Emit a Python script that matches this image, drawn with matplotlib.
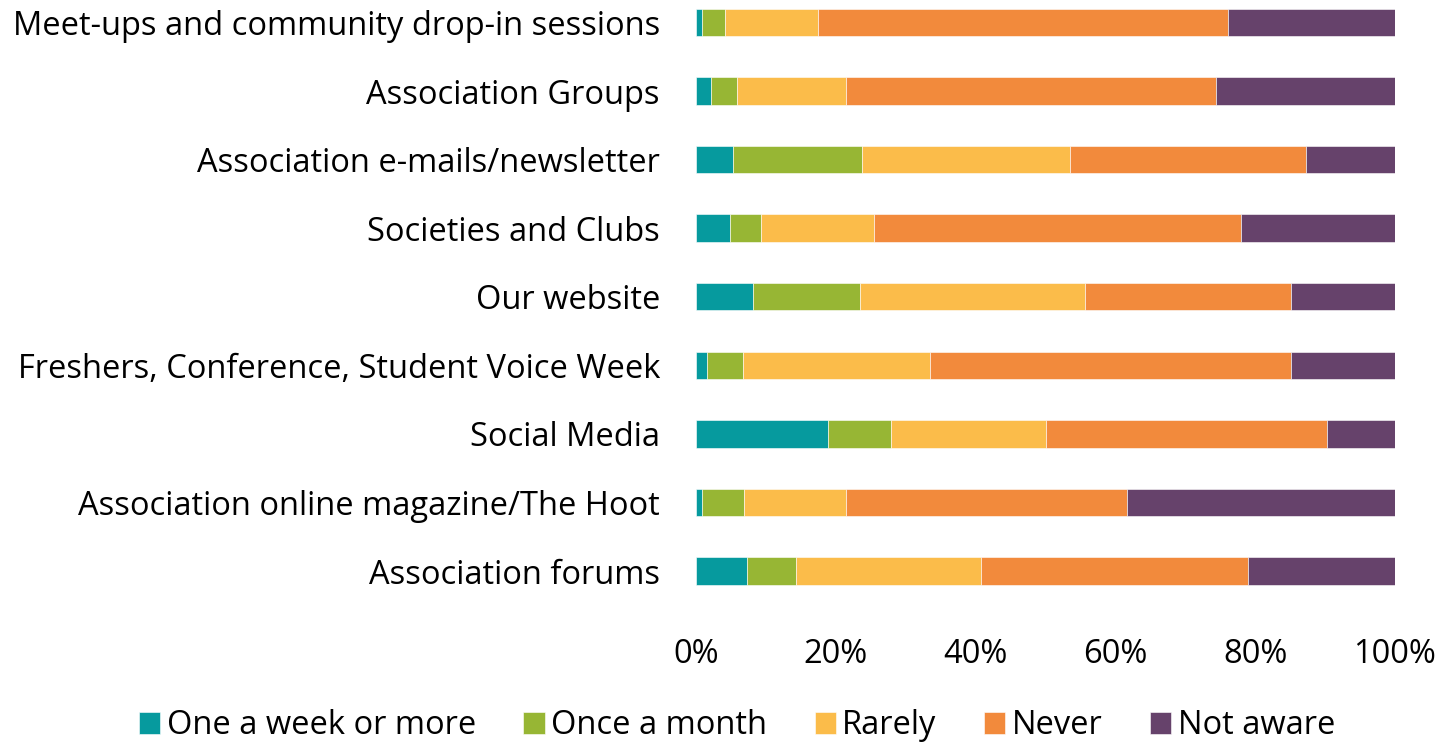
import numpy as np
import matplotlib.pyplot as plt
from matplotlib.ticker import PercentFormatter

# categories (top to bottom) and share of responses (%)
categories = ["Meet-ups and community drop-in sessions",
              "Association Groups",
              "Association e-mails/newsletter",
              "Societies and Clubs",
              "Our website",
              "Freshers, Conference, Student Voice Week",
              "Social Media",
              "Association online magazine/The Hoot",
              "Association forums"]
weekly  = [0.9, 2.2, 5.3, 4.8, 8.1, 1.5, 18.9, 0.9, 7.3]
monthly = [3.3, 3.7, 18.5, 4.5, 15.4, 5.2, 9.0, 6.0, 7.0]
rarely  = [13.2, 15.5, 29.7, 16.2, 32.2, 26.8, 22.2, 14.5, 26.4]
never   = [58.7, 53.0, 33.8, 52.5, 29.4, 51.6, 40.2, 40.2, 38.3]
unaware = [23.9, 25.6, 12.7, 22.0, 14.9, 14.9, 9.7, 38.4, 21.0]

series = ["One a week or more", "Once a month", "Rarely", "Never", "Not aware"]
colors = ["#069A9E", "#97B634", "#FBBC4A", "#F28A3C", "#66426B"]

plt.rcParams['font.family'] = ['Open Sans', 'DejaVu Sans']

fig = plt.figure(figsize=(14.48, 7.42), dpi=100)
ax = fig.add_axes([0.4807, 0.1846, 0.4827, 0.8154])

y = np.arange(len(categories))
left = np.zeros(len(categories))
for vals, lab, col in zip([weekly, monthly, rarely, never, unaware], series, colors):
    ax.barh(y, vals, left=left, height=0.4, color=col, label=lab,
            edgecolor='white', linewidth=0.4)
    left += np.array(vals)

ax.set_xlim(0, 100)
ax.set_ylim(8.496, -0.328)
ax.set_yticks(y)
ax.set_yticklabels(categories, fontsize=23.5)
ax.set_xticks(np.arange(0, 101, 20))
ax.xaxis.set_major_formatter(PercentFormatter(decimals=0))
ax.tick_params(axis='x', labelsize=23.5, length=0, pad=24)
ax.tick_params(axis='y', length=0, pad=26)
for s in ax.spines.values():
    s.set_visible(False)

fig.legend(loc='lower center', bbox_to_anchor=(0.509, -0.04), ncol=5,
           frameon=False, fontsize=23.5, handlelength=0.65, handleheight=0.65,
           handletextpad=0.2, columnspacing=1.45)

fig.savefig("out.png", dpi=100)
